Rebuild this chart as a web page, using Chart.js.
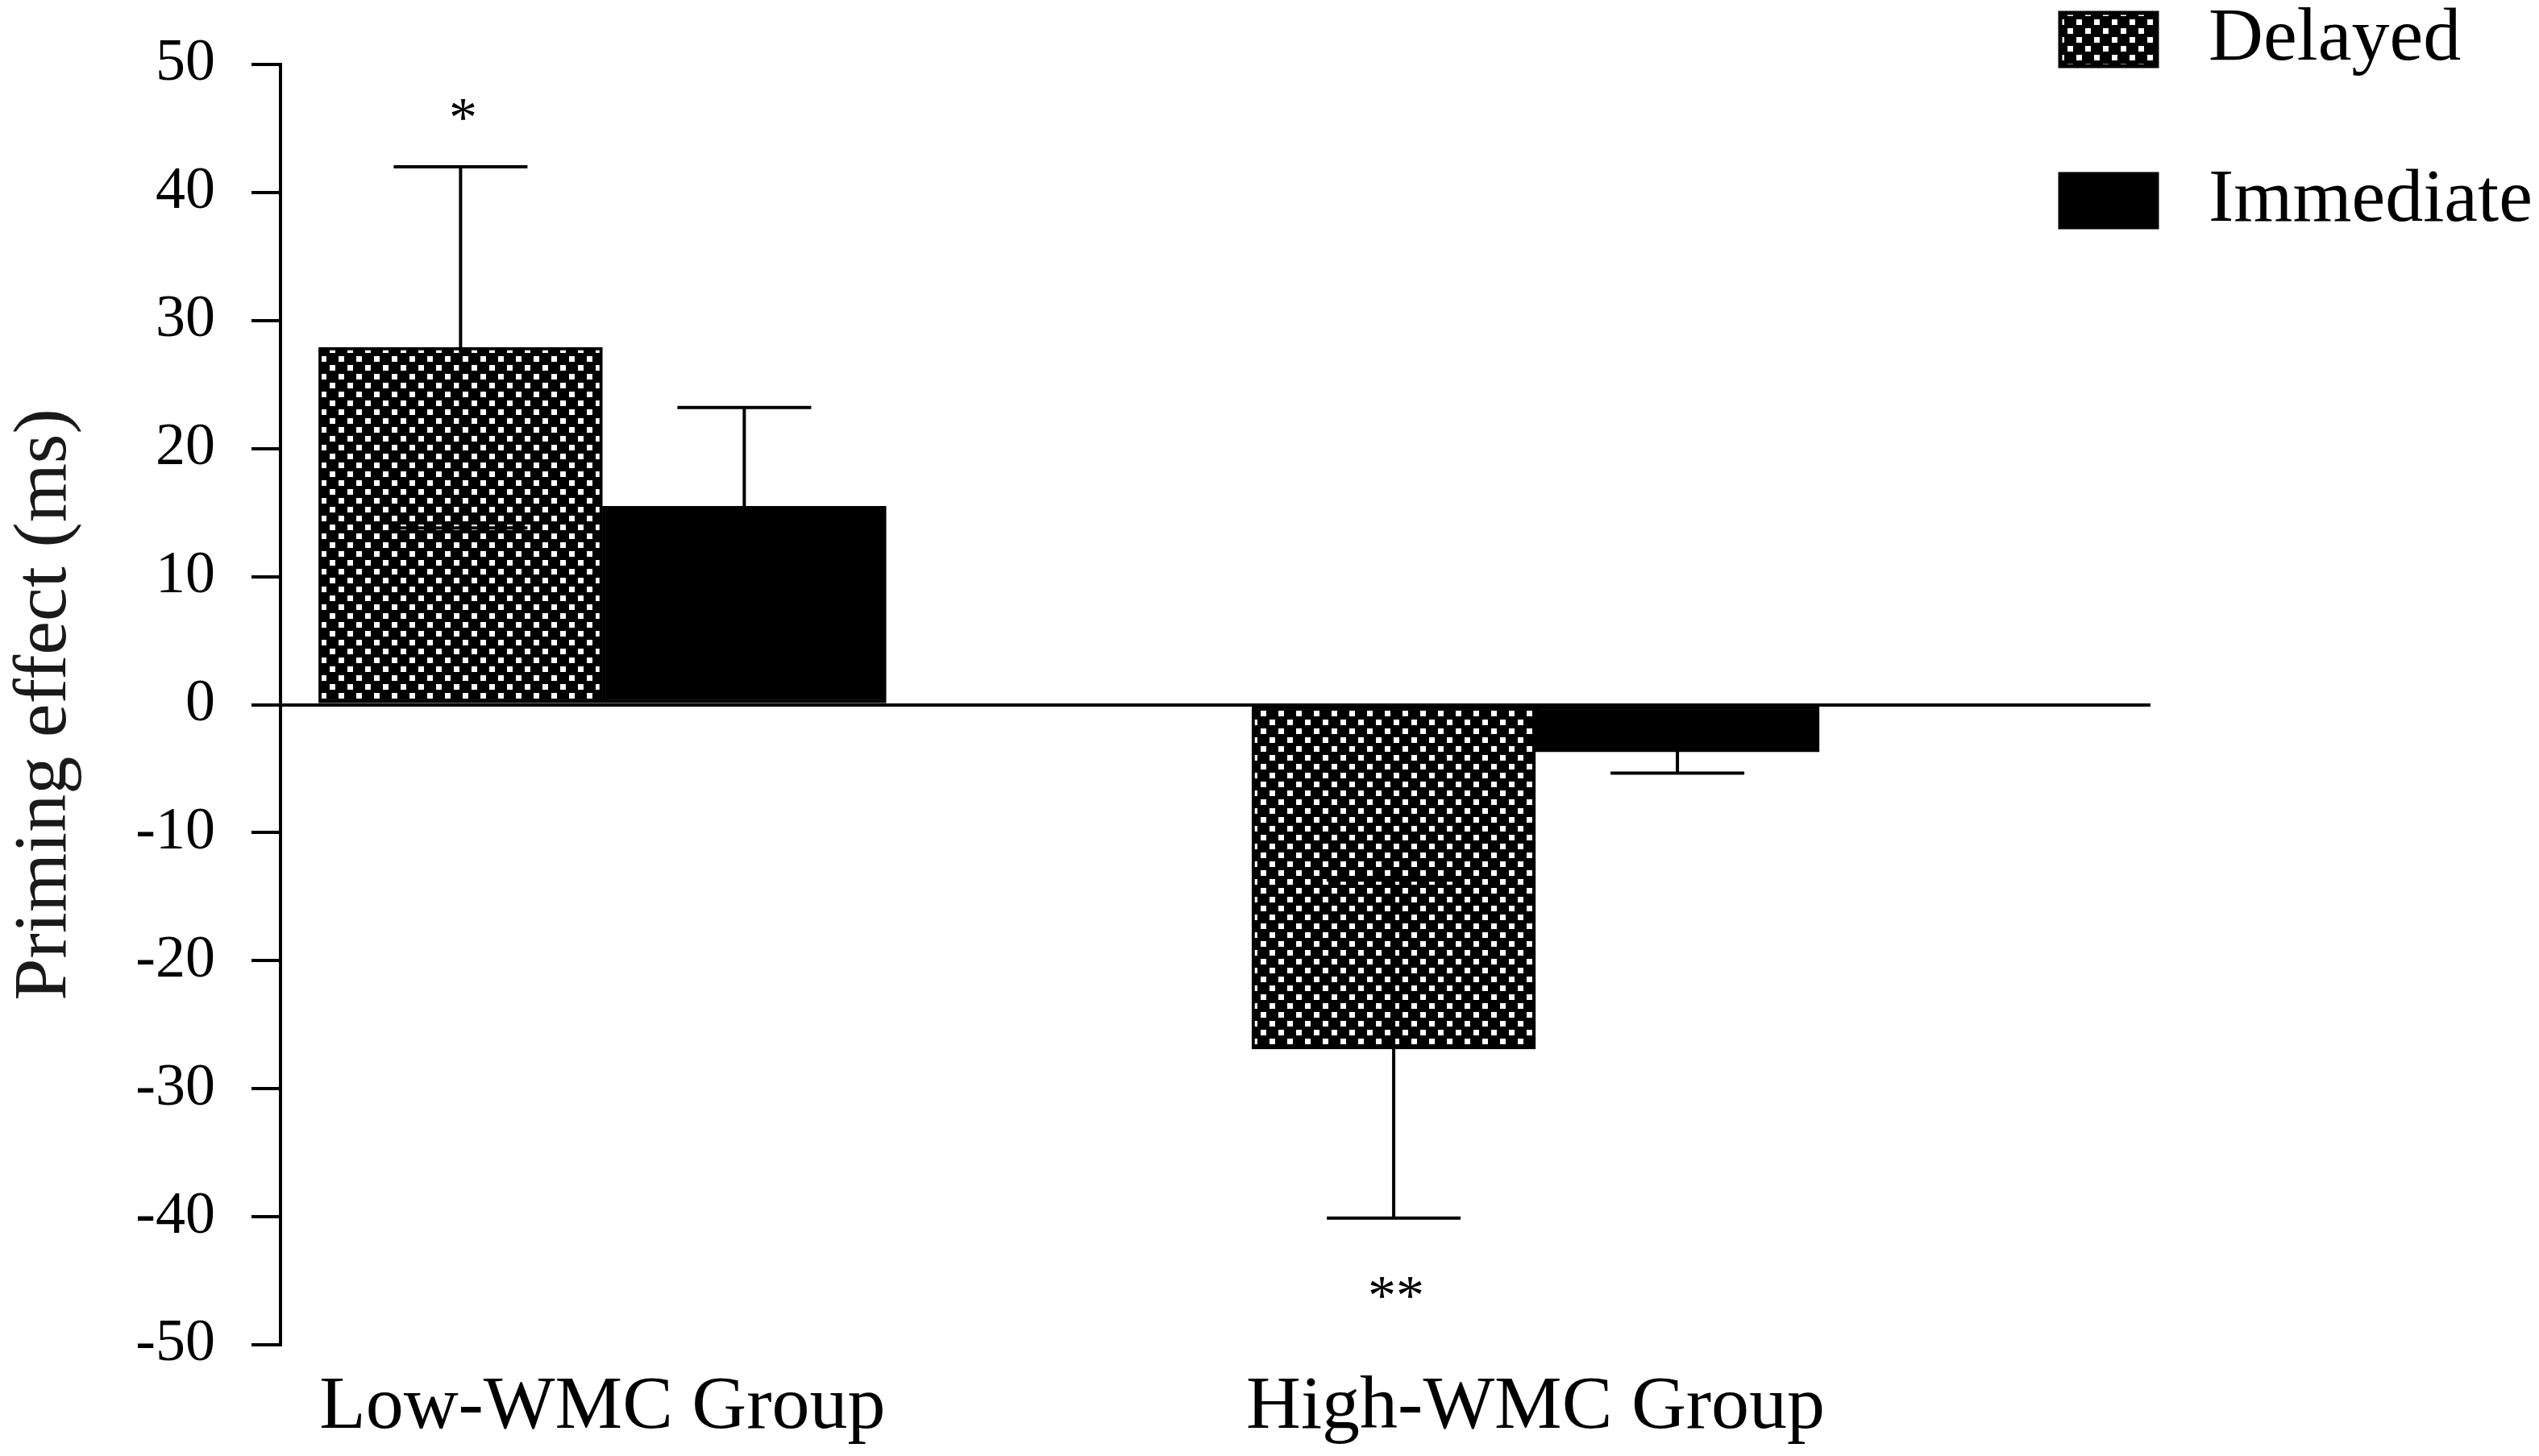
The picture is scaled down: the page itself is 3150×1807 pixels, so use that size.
<!DOCTYPE html>
<html>
<head>
<meta charset="utf-8">
<title>Priming effect</title>
<script src="https://cdn.jsdelivr.net/npm/chart.js@4.4.1/dist/chart.umd.min.js"></script>
<style>
  html, body { margin: 0; padding: 0; background: #fff; }
  #wrap { width: 3150px; height: 1807px; position: relative; }
</style>
</head>
<body>
<div id="wrap"><canvas id="chart"></canvas></div>
<script>
const groups = ["Low-WMC Group", "High-WMC Group"];
const seriesNames = ["Delayed", "Immediate"];
const delayedMeans = [27.9, -26.9];
const delayedErrors = [14.1, 13.2];
const immediateMeans = [15.5, -3.7];
const immediateErrors = [7.7, 1.65];
const delayedStars = ["*", "**"];
const delayedStarAt = [46.6, -45.4];
const yTicks = [-50, -40, -30, -20, -10, 0, 10, 20, 30, 40, 50];

const SERIF = "'Liberation Serif', 'Times New Roman', serif";

// checkerboard fill like the printed figure
function makeChecker() {
  const c = document.createElement("canvas");
  c.width = 22; c.height = 22;
  const g = c.getContext("2d");
  g.fillStyle = "#000";
  g.fillRect(0, 0, 22, 22);
  g.fillStyle = "#fff";
  g.fillRect(2, 2, 7, 7);
  g.fillRect(13, 13, 7, 7);
  return g.createPattern(c, "repeat");
}
const checker = makeChecker();

const errorBars = {
  id: "errorBars",
  afterDatasetsDraw(chart) {
    const ctx = chart.ctx;
    const y = chart.scales.y;
    const errs = [delayedErrors, immediateErrors];
    ctx.save();
    ctx.strokeStyle = "#000";
    ctx.lineWidth = 4;
    chart.data.datasets.forEach((ds, di) => {
      chart.getDatasetMeta(di).data.forEach((bar, i) => {
        const v = ds.data[i].y;
        const e = errs[di][i];
        const top = y.getPixelForValue(v + e);
        const bot = y.getPixelForValue(v - e);
        ctx.beginPath();
        ctx.moveTo(bar.x, top); ctx.lineTo(bar.x, bot);
        ctx.moveTo(bar.x - 83, top); ctx.lineTo(bar.x + 83, top);
        ctx.moveTo(bar.x - 83, bot); ctx.lineTo(bar.x + 83, bot);
        ctx.stroke();
      });
    });
    // significance marks
    ctx.fillStyle = "#000";
    ctx.font = "70px " + SERIF;
    ctx.textAlign = "center";
    ctx.textBaseline = "alphabetic";
    chart.getDatasetMeta(0).data.forEach((bar, i) => {
      ctx.fillText(delayedStars[i], bar.x + 3, y.getPixelForValue(delayedStarAt[i]) + 35);
    });
    ctx.restore();
  }
};

const sideLegend = {
  id: "sideLegend",
  afterDraw(chart) {
    const ctx = chart.ctx;
    ctx.save();
    ctx.font = "94px " + SERIF;
    ctx.textBaseline = "middle";
    ctx.textAlign = "left";
    chart.data.datasets.forEach((ds, i) => {
      const bx = 2556, by = 16 + i * 200;
      ctx.fillStyle = ds.backgroundColor;
      ctx.fillRect(bx, by, 120, 66);
      ctx.strokeStyle = "#000";
      ctx.lineWidth = 5;
      ctx.strokeRect(bx, by, 120, 66);
      ctx.fillStyle = "#000";
      ctx.fillText(ds.label, bx + 184, by + 33);
    });
    ctx.restore();
  }
};

new Chart(document.getElementById("chart"), {
  type: "bar",
  data: {
    datasets: [
      {
        label: seriesNames[0],
        data: delayedMeans.map((v, i) => ({ x: i + 1, y: v })),
        backgroundColor: checker,
        borderColor: "#000",
        borderWidth: 4,
        borderSkipped: false,
        barThickness: 352
      },
      {
        label: seriesNames[1],
        data: immediateMeans.map((v, i) => ({ x: i + 1, y: v })),
        backgroundColor: "#000",
        borderColor: "#000",
        borderWidth: 4,
        borderSkipped: false,
        barThickness: 352
      }
    ]
  },
  options: {
    responsive: true,
    maintainAspectRatio: false,
    animation: false,
    devicePixelRatio: 1,
    layout: { padding: { left: 0, top: 80, right: 482, bottom: 0 } },
    plugins: {
      legend: { display: false },
      tooltip: { enabled: false }
    },
    scales: {
      x: {
        type: "linear",
        offset: false,
        min: 0.655,
        max: 2.659,
        grid: { display: false, drawTicks: false },
        border: { display: false },
        afterBuildTicks: s => { s.ticks = groups.map((g, i) => ({ value: i + 1 })); },
        afterFit: s => { s.height = 138; },
        ticks: {
          callback: v => groups[v - 1],
          maxRotation: 0,
          autoSkip: false,
          padding: 22,
          color: "#000",
          font: { family: SERIF, size: 94 }
        }
      },
      y: {
        min: -50,
        max: 50,
        afterBuildTicks: s => { s.ticks = yTicks.map(v => ({ value: v })); },
        afterFit: s => { s.width = 348; },
        grid: {
          color: c => (c.tick && c.tick.value === 0 ? "#000" : "rgba(0,0,0,0)"),
          lineWidth: 4,
          tickColor: "#000",
          tickWidth: 4,
          tickLength: 36
        },
        border: { display: true, color: "#000", width: 4 },
        ticks: {
          padding: 45,
          color: "#000",
          font: { family: SERIF, size: 74, lineHeight: 0.9 }
        },
        title: {
          display: true,
          text: "Priming effect (ms)",
          color: "#1a1a1a",
          font: { family: SERIF, size: 94 },
          padding: { top: 0, bottom: 56 }
        }
      }
    }
  },
  plugins: [errorBars, sideLegend]
});
</script>
</body>
</html>
